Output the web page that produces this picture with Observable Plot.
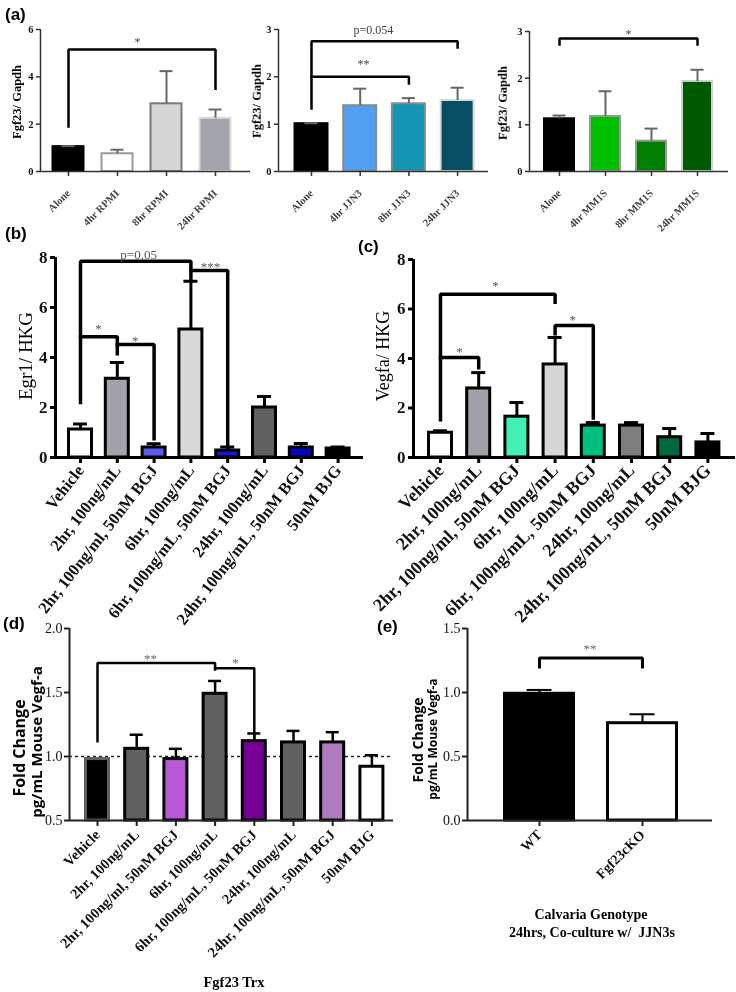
<!DOCTYPE html>
<html><head><meta charset="utf-8">
<script src="https://cdn.jsdelivr.net/npm/d3@7"></script>
<script src="https://cdn.jsdelivr.net/npm/@observablehq/plot@0.6"></script>
<style>
body{margin:0;background:#fff;}
#fig{position:relative;width:736px;height:992px;overflow:hidden;background:#fff;}
.box{position:absolute;}
.box svg{will-change:transform;}
.vl{position:absolute;white-space:nowrap;line-height:1;transform:translate(-50%,-50%) rotate(-90deg);}
.hl{position:absolute;white-space:nowrap;line-height:1;transform:translate(-50%,-50%);text-align:center;}
.let{position:absolute;font-family:"Liberation Sans",Arial,sans-serif;font-weight:bold;font-size:17px;line-height:1;white-space:nowrap;}
</style></head><body><div id="fig"></div><script>
// ---------------- data ----------------
const a1Cats = ["Alone","4hr RPMI","8hr RPMI","24hr RPMI"];
const a1Vals = [1.05,0.75,2.86,2.25];
const a1Errs = [1.07,0.92,4.24,2.62];
const a2Cats = ["Alone","4hr JJN3","8hr JJN3","24hr JJN3"];
const a2Vals = [1.01,1.39,1.43,1.50];
const a2Errs = [1.02,1.75,1.55,1.77];
const a3Cats = ["Alone","4hr MM1S","8hr MM1S","24hr MM1S"];
const a3Vals = [1.13,1.18,0.65,1.93];
const a3Errs = [1.20,1.72,0.92,2.18];
const trtCats = ["Vehicle","2hr, 100ng/mL","2hr, 100ng/ml, 50nM BGJ","6hr, 100ng/mL","6hr, 100ng/mL, 50nM BGJ","24hr, 100ng/mL","24hr, 100ng/mL, 50nM BGJ","50nM BJG"];
const bVals = [1.12,3.15,0.40,5.12,0.28,2.00,0.40,0.36];
const bErrs = [1.34,3.80,0.55,7.05,0.42,2.44,0.56,0.42];
const cVals = [1.00,2.79,1.65,3.76,1.29,1.29,0.82,0.61];
const cErrs = [1.08,3.43,2.22,4.85,1.41,1.41,1.17,0.97];
const dVals = [0.98,1.06,0.98,1.49,1.12,1.11,1.11,0.92];
const dErrs = [null,1.17,1.06,1.59,1.18,1.20,1.19,1.01];
const eCats = ["WT","Fgf23cKO"];
const eVals = [0.99,0.76];
const eErrs = [1.02,0.83];
// significance brackets: [category index, value] vertices
const a1Brackets = [[[0,1.9],[0,5.15],[3,5.15],[3,3.5]]];
const a2Brackets = [[[0,1.33],[0,2.75],[3,2.75],[3,2.62]],[[0,2.0],[2,2.0],[2,1.86]]];
const a3Brackets = [[[0,2.72],[0,2.85],[3,2.85],[3,2.72]]];
const bBrackets = [[[0,2.2],[0,7.85],[3,7.85],[3,7.05]],[[3,7.48],[4,7.48],[4,0.4]],[[0,4.83],[1,4.83],[1,4.15]],[[1,4.52],[2,4.52],[2,0.75]]];
const cBrackets = [[[0,1.53],[0,6.6],[3,6.6],[3,6.27]],[[0,4.04],[1,4.04],[1,3.63]],[[3,5.0],[3,5.33],[4,5.33],[4,1.6]]];
const dBrackets = [[[0,1.12],[0,1.73],[3,1.73],[3,1.68]],[[3,1.69],[4,1.69],[4,1.14]]];
const eBrackets = [[[0,1.2],[0,1.27],[1,1.27],[1,1.2]]];
const a1Stars = [{x:1.41,y:5.45,t:"*"}];
const a2Stars = [{x:1.27,y:2.98,t:"p=0.054"},{x:1.07,y:2.26,t:"**"}];
const a3Stars = [{x:1.5,y:2.94,t:"*"}];
const bStars = [{x:1.58,y:8.12,t:"p=0.05"},{x:3.53,y:7.64,t:"***"},{x:0.49,y:5.16,t:"*"},{x:1.49,y:4.68,t:"*"}];
const cStars = [{x:1.44,y:6.95,t:"*"},{x:0.5,y:4.28,t:"*"},{x:3.46,y:5.58,t:"*"}];
const dStars = [{x:1.35,y:1.76,t:"**"},{x:3.52,y:1.73,t:"*"}];
const eStars = [{x:0.49,y:1.34,t:"**"}];

// ---------------- styles ----------------
const SERIF = "'Liberation Serif','Times New Roman',serif";
const SANS = "'Open Sans','Liberation Sans',sans-serif";
const fig = document.getElementById("fig");

function panel(c) {
  const n = c.cats.length;
  const last = c.c0 + (n - 1) * c.step;
  const lo = -(c.c0 - c.axisX) / c.step;
  const hi = (n - 1) + (c.right - last) / c.step;
  const hw = c.barW / 2 / c.step, cw = c.capW / 2 / c.step;
  const rows = c.cats.map((cat, i) => ({i, v: c.vals[i], e: c.errs[i], fill: c.fills[i], stroke: c.strokes[i]}));
  const errRows = rows.filter(d => d.e != null);
  const br = c.brackets.flatMap((b, k) => b.map(([x, y]) => ({k, x, y})));
  const y0 = c.yDomain[0];
  const marks = [];
  if (c.dashed) marks.push(Plot.ruleY([1], {stroke: "#222", strokeWidth: 1.5, strokeDasharray: "3,3"}));
  marks.push(
    Plot.rectY(rows, {x1: d => d.i - hw, x2: d => d.i + hw, y1: y0, y2: "v", fill: "fill", stroke: "stroke", strokeWidth: c.barSW}),
    Plot.ruleX(errRows, {x: "i", y1: "v", y2: "e", stroke: c.errColor, strokeWidth: c.errW}),
    Plot.ruleY(errRows, {y: "e", x1: d => d.i - cw, x2: d => d.i + cw, stroke: c.errColor, strokeWidth: c.errW}),
    Plot.line(br, {x: "x", y: "y", z: "k", stroke: "#000", strokeWidth: c.brW, strokeLinejoin: "miter", strokeLinecap: "square"}),
    Plot.text(c.stars, {x: "x", y: "y", text: "t", fontSize: c.starSize, fill: c.starColor, fontFamily: SERIF}),
    Plot.ruleY([y0], {stroke: c.axisColor, strokeWidth: c.axisW}),
    Plot.ruleX([lo], {stroke: c.axisColor, strokeWidth: c.axisW}),
    Plot.axisY({ticks: c.yTicks, tickFormat: c.yFmt, tickSize: c.yTickSize, tickPadding: c.yPad, fontSize: c.yFont, fontWeight: c.yWeight, fontFamily: SERIF, label: null, stroke: c.axisColor, strokeWidth: c.axisW, fill: "#111"}),
    Plot.axisX({ticks: d3.range(n), tickFormat: i => c.cats[i], tickRotate: c.xRot, tickSize: c.xTickSize, tickPadding: c.xPad, fontSize: c.xFont, fontWeight: c.xWeight, fontFamily: SERIF, label: null, stroke: c.axisColor, strokeWidth: c.axisW, fill: c.xColor || "#111"})
  );
  const svg = Plot.plot({
    width: c.box.w, height: c.box.h,
    marginLeft: c.axisX - c.box.left, marginRight: c.box.left + c.box.w - c.right,
    marginTop: c.topPx - c.box.top, marginBottom: c.box.top + c.box.h - c.basePx,
    x: {domain: [lo, hi]},
    y: {domain: c.yDomain},
    color: {type: "identity"},
    style: {background: "transparent", overflow: "visible", fontFamily: SERIF, color: "#111"},
    marks
  });
  const div = document.createElement("div");
  div.className = "box";
  div.style.left = c.box.left + "px"; div.style.top = c.box.top + "px";
  div.appendChild(svg);
  fig.appendChild(div);
}

const aCommon = {yTickSize: 4, yPad: 3, yFont: 10.5, yWeight: "bold", xTickSize: 5, xPad: 15, xFont: 10.5, xWeight: "bold", xColor: "#444", xRot: -45,
  axisColor: "#333", axisW: 1.5, barSW: 2, errColor: "#666", errW: 2, capW: 13, brW: 2.5, starSize: 12, starColor: "#444", yFmt: d3.format("d")};

panel({...aCommon, box: {left: 0, top: 0, w: 252, h: 230}, axisX: 40, right: 250, topPx: 29, basePx: 171, c0: 68, step: 49, barW: 31,
  cats: a1Cats, vals: a1Vals, errs: a1Errs, fills: ["#000", "#fff", "#d6d6d6", "#a3a3ab"], strokes: ["#000", "#9a9a9a", "#7a7a7a", "#dcdcdc"],
  yDomain: [0, 6], yTicks: [0, 2, 4, 6], brackets: a1Brackets, stars: a1Stars});
panel({...aCommon, box: {left: 252, top: 0, w: 238, h: 230}, axisX: 278, right: 488, topPx: 29, basePx: 171, c0: 311, step: 48.7, barW: 33,
  cats: a2Cats, vals: a2Vals, errs: a2Errs, fills: ["#000", "#4f9ff2", "#1395b3", "#054e63"], strokes: ["#000", "#8a8a8a", "#8a8a8a", "#d8d8d8"],
  yDomain: [0, 3], yTicks: [0, 1, 2, 3], brackets: a2Brackets, stars: a2Stars});
panel({...aCommon, box: {left: 490, top: 0, w: 246, h: 230}, axisX: 529, right: 728, topPx: 31, basePx: 171, c0: 559, step: 46, barW: 30,
  cats: a3Cats, vals: a3Vals, errs: a3Errs, fills: ["#000", "#00c000", "#007f00", "#005a00"], strokes: ["#000", "#999", "#999", "#d0d0d0"],
  yDomain: [0, 3], yTicks: [0, 1, 2, 3], brackets: a3Brackets, stars: a3Stars});

const bcCommon = {yTickSize: 5, yPad: 3, yFont: 17, yWeight: "bold", xTickSize: 6, xPad: 4, xWeight: "bold",
  axisColor: "#000", axisW: 3, barSW: 3, errColor: "#000", errW: 3, capW: 14, brW: 3.5, starSize: 13, starColor: "#555", yFmt: d3.format("d"),
  yDomain: [0, 8], yTicks: [0, 2, 4, 6, 8], cats: trtCats};
panel({...bcCommon, box: {left: 0, top: 230, w: 370, h: 390}, axisX: 55, right: 363, topPx: 257, basePx: 457, c0: 80, step: 36.8, barW: 23,
  xRot: -52, xFont: 16.5,
  vals: bVals, errs: bErrs, fills: ["#fff", "#a2a2aa", "#5b5bf0", "#d8d8d8", "#1515d4", "#606060", "#0606c0", "#000"], strokes: Array(8).fill("#000"),
  brackets: bBrackets, stars: bStars});
panel({...bcCommon, box: {left: 370, top: 230, w: 366, h: 390}, axisX: 413, right: 735, topPx: 259, basePx: 457, c0: 440, step: 38.2, barW: 23,
  xRot: -45, xFont: 18,
  vals: cVals, errs: cErrs, fills: ["#fff", "#a0a0a8", "#43f0b4", "#d6d6d6", "#00c07e", "#7e7e7e", "#006a3e", "#000"], strokes: Array(8).fill("#000"),
  brackets: cBrackets, stars: cStars});

const deCommon = {yTickSize: 5, yPad: 2, yFont: 14, yWeight: "normal", xTickSize: 6, xPad: 6, xWeight: "bold", xRot: -45,
  axisColor: "#222", axisW: 2, barSW: 3, errColor: "#000", errW: 2.5, brW: 2.5, starSize: 13, starColor: "#666", yFmt: d3.format(".1f")};
panel({...deCommon, box: {left: 0, top: 620, w: 400, h: 372}, axisX: 69, right: 393, topPx: 628, basePx: 820, c0: 97, step: 39.2, barW: 23, capW: 13,
  xFont: 14.5,
  cats: trtCats, vals: dVals, errs: dErrs, fills: ["#000", "#606060", "#b858d8", "#606060", "#760094", "#606060", "#b07cc0", "#fff"],
  strokes: ["#606060", "#000", "#000", "#000", "#000", "#000", "#000", "#000"],
  yDomain: [0.5, 2.0], yTicks: [0.5, 1.0, 1.5, 2.0], brackets: dBrackets, stars: dStars, dashed: true});
panel({...deCommon, box: {left: 400, top: 620, w: 336, h: 372}, axisX: 467, right: 712, topPx: 628, basePx: 820, c0: 539, step: 103, barW: 69, capW: 25,
  xFont: 14,
  cats: eCats, vals: eVals, errs: eErrs, fills: ["#000", "#fff"], strokes: ["#000", "#000"], brW: 3, errW: 2,
  yDomain: [0, 1.5], yTicks: [0, 0.5, 1.0, 1.5], brackets: eBrackets, stars: eStars});

// ---------------- texts ----------------
function addText(cls, txt, x, y, css) {
  const d = document.createElement("div");
  d.className = cls; d.textContent = txt;
  d.style.left = x + "px"; d.style.top = y + "px";
  Object.assign(d.style, css || {});
  fig.appendChild(d);
}
const letterTexts = [["(a)", 5, 6], ["(b)", 5, 225], ["(c)", 358, 238], ["(d)", 3, 615], ["(e)", 377, 618]];
letterTexts.forEach(([t, x, y]) => addText("let", t, x, y));
const smallY = {fontFamily: SERIF, fontWeight: "bold", fontSize: "12.5px"};
addText("vl", "Fgf23/ Gapdh", 17, 102, smallY);
addText("vl", "Fgf23/ Gapdh", 257, 101, smallY);
addText("vl", "Fgf23/ Gapdh", 503, 103, smallY);
addText("vl", "Egr1/ HKG", 25, 356, {fontFamily: SERIF, fontSize: "19px"});
addText("vl", "Vegfa/ HKG", 383, 356, {fontFamily: SERIF, fontSize: "18px"});
addText("vl", "Fold Change", 19, 748, {fontFamily: SANS, fontWeight: "bold", fontSize: "16px"});
addText("vl", "pg/mL Mouse Vegf-a", 36, 742, {fontFamily: SANS, fontWeight: "bold", fontSize: "15px"});
addText("vl", "Fold Change", 418, 740, {fontFamily: SANS, fontWeight: "bold", fontSize: "14px"});
addText("vl", "pg/mL Mouse Vegf-a", 433, 739, {fontFamily: SANS, fontWeight: "bold", fontSize: "12px"});
addText("hl", "Fgf23 Trx", 234, 982, {fontFamily: SERIF, fontWeight: "bold", fontSize: "14.5px"});
addText("hl", "Calvaria Genotype", 591, 915, {fontFamily: SERIF, fontWeight: "bold", fontSize: "14px"});
addText("hl", "24hrs, Co-culture w/\u00a0 JJN3s", 592, 933, {fontFamily: SERIF, fontWeight: "bold", fontSize: "14px"});
</script></body></html>
